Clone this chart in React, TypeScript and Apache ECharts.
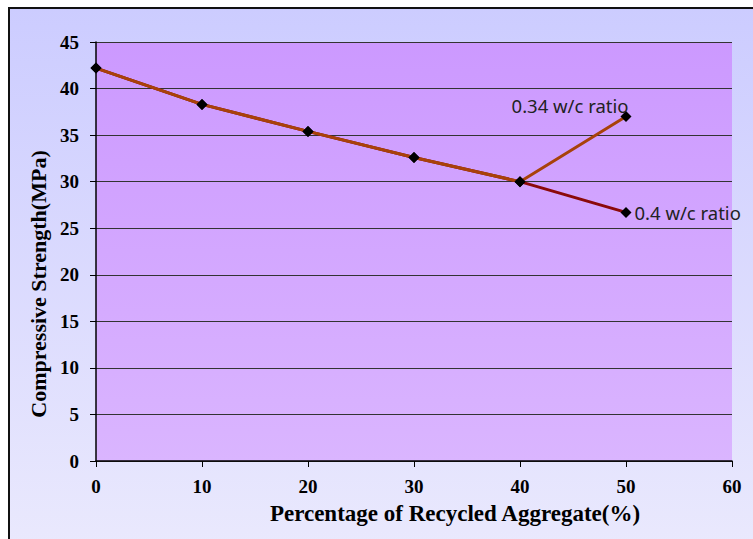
import React, { useEffect, useRef } from "react";
import * as echarts from "echarts";

const xValues = [0, 10, 20, 30, 40, 50];
const wc040 = [42.2, 38.3, 35.4, 32.6, 30.0, 26.7];
const wc034 = [42.2, 38.3, 35.4, 32.6, 30.0, 37.0];
const seriesNames = ["0.4 w/c ratio", "0.34 w/c ratio"];
const xAxisTitle = "Percentage of Recycled Aggregate(%)";
const yAxisTitle = "Compressive Strength(MPa)";

export default function App() {
  const ref = useRef<HTMLDivElement>(null);
  useEffect(() => {
    if (!ref.current) return;
    const chart = echarts.init(ref.current, null, { renderer: "svg" });
    const lastIdx = xValues.length - 1;
    const mk = (vals: number[], name: string, color: string, label: any) => ({
      type: "line",
      name,
      data: vals.map((v, i) =>
        i === lastIdx ? { value: [xValues[i], v], label } : { value: [xValues[i], v] }
      ),
      symbol: "diamond",
      symbolSize: 11,
      itemStyle: { color: "#000" },
      lineStyle: { color, width: 3 },
      label: { show: false },
      z: 3,
    });
    const labelFont = { fontFamily: "Noto Sans", fontSize: 18.5, color: "#222" };
    chart.setOption({
      animation: false,
      graphic: [
        {
          type: "rect",
          z: -10,
          silent: true,
          shape: { x: 9, y: 8, width: 760, height: 560 },
          style: {
            fill: new echarts.graphic.LinearGradient(0, 0, 0, 1, [
              { offset: 0, color: "#ccccff" },
              { offset: 1, color: "#ebeafd" },
            ]),
            stroke: "#111",
            lineWidth: 2,
          },
        },
        {
          type: "text",
          x: 455,
          y: 513,
          style: {
            text: xAxisTitle,
            font: "bold 23px 'Liberation Serif'",
            fill: "#000",
            align: "center",
            verticalAlign: "middle",
          },
        },
        {
          type: "text",
          x: 38,
          y: 284,
          rotation: Math.PI / 2,
          style: {
            text: yAxisTitle,
            font: "bold 22px 'Liberation Serif'",
            fill: "#000",
            align: "center",
            verticalAlign: "middle",
          },
        },
      ],
      grid: {
        left: 96,
        top: 42,
        right: 21,
        bottom: 78,
        show: true,
        borderWidth: 0,
        backgroundColor: new echarts.graphic.LinearGradient(0, 0, 0, 1, [
          { offset: 0, color: "#cc99ff" },
          { offset: 1, color: "#dab5ff" },
        ]),
      },
      xAxis: {
        type: "value",
        min: 0,
        max: 60,
        interval: 10,
        axisLine: { lineStyle: { color: "#000", width: 1.5 } },
        axisTick: { show: true, length: 6, lineStyle: { color: "#000" } },
        splitLine: { show: false },
        axisLabel: {
          margin: 16,
          fontFamily: "Liberation Serif",
          fontWeight: "bold",
          fontSize: 19,
          color: "#000",
        },
      },
      yAxis: {
        type: "value",
        min: 0,
        max: 45,
        interval: 5,
        axisLine: { show: true, lineStyle: { color: "#000", width: 1.5 } },
        axisTick: { show: true, length: 6, lineStyle: { color: "#000" } },
        splitLine: { show: true, lineStyle: { color: "#333", width: 1 } },
        axisLabel: {
          margin: 17,
          fontFamily: "Liberation Serif",
          fontWeight: "bold",
          fontSize: 19,
          color: "#000",
        },
      },
      series: [
        mk(wc040, seriesNames[0], "#8b0a0a", {
          show: true,
          position: "right",
          distance: 3,
          formatter: seriesNames[0],
          ...labelFont,
        }),
        mk(wc034, seriesNames[1], "#a8420a", {
          show: true,
          position: "inside",
          offset: [-56, -11],
          formatter: seriesNames[1],
          ...labelFont,
        }),
      ],
    });
    return () => chart.dispose();
  }, []);
  return <div ref={ref} style={{ width: 753, height: 539, position: "absolute", left: 0, top: 0, background: "#fff" }} />;
}
